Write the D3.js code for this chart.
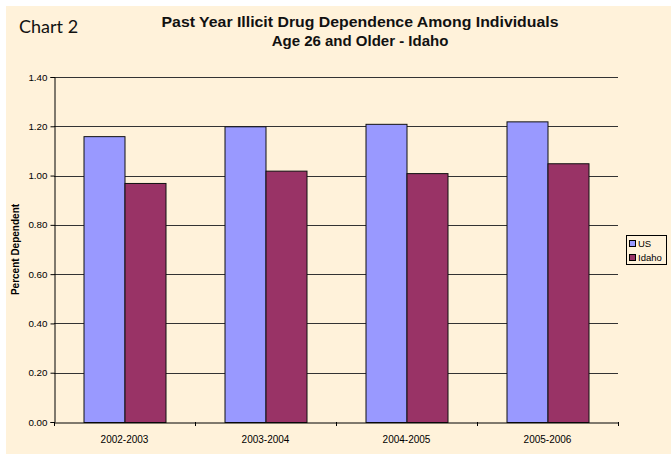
<!DOCTYPE html>
<html><head><meta charset="utf-8">
<script src="https://cdn.jsdelivr.net/npm/d3@7"></script>
<style>body{margin:0;background:#fff;} svg{display:block;}</style>
</head><body>
<svg id="c" width="671" height="455"></svg>
<script>
const categories = ["2002-2003","2003-2004","2004-2005","2005-2006"];
const seriesNames = ["US","Idaho"];
const usValues = [1.16,1.20,1.21,1.22];
const idahoValues = [0.97,1.02,1.01,1.05];
const yTicks = [0,0.2,0.4,0.6,0.8,1.0,1.2,1.4];
const colors = ["#9999FF","#993366"];

const svg = d3.select("#c");
svg.append("rect").attr("x",6).attr("y",6).attr("width",665).attr("height",448).attr("fill","#FFF2DA");

const L=54,R=618,T=77,B=422;
const x = d3.scaleBand().domain(categories).range([L,R]).paddingInner(0).paddingOuter(0);
const x1 = d3.scaleBand().domain(seriesNames).range([0,82]);
const y = d3.scaleLinear().domain([0,1.4]).range([B,T]);

// gridlines
svg.append("g").selectAll("line").data(yTicks.filter(d=>d>0)).join("line")
  .attr("x1",L).attr("x2",R).attr("y1",d=>Math.round(y(d))+0.5).attr("y2",d=>Math.round(y(d))+0.5)
  .attr("stroke","#333").attr("stroke-width",1);

const data = [usValues, idahoValues];
const g = svg.append("g");
categories.forEach((c,i)=>{
  seriesNames.forEach((s,j)=>{
    const bx = x(c) + (x.bandwidth()-82)/2 + x1(s);
    g.append("rect").attr("x",bx+0.5).attr("y",y(data[j][i])+0.5)
      .attr("width",x1.bandwidth()).attr("height",B-y(data[j][i]))
      .attr("fill",colors[j]).attr("stroke","#111").attr("stroke-width",1);
  });
});

// y axis
const ya = svg.append("g").attr("transform",`translate(${L+0.5},0)`)
  .call(d3.axisLeft(y).tickValues(yTicks).tickFormat(d3.format(".2f")).tickSize(4));
ya.select(".domain").attr("stroke","#000");
ya.selectAll(".tick line").attr("stroke","#000");
ya.selectAll("text").attr("font-family","Arial, Liberation Sans, sans-serif").attr("font-size","9.8px").attr("fill","#000").attr("x",-7);

// x axis
const xa = svg.append("g").attr("transform",`translate(0,${B+0.5})`)
  .call(d3.axisBottom(x).tickSize(0).tickSizeOuter(0));
xa.select(".domain").attr("stroke","#000");
xa.selectAll("text").attr("font-family","Arial, Liberation Sans, sans-serif").attr("font-size","10px").attr("fill","#000").attr("dy","1.7em");
// category boundary ticks
const bounds = categories.map(c=>x(c)).concat([R]);
svg.append("g").selectAll("line").data(bounds).join("line")
  .attr("x1",d=>Math.round(d)+0.5).attr("x2",d=>Math.round(d)+0.5)
  .attr("y1",B).attr("y2",B+4).attr("stroke","#000");

// titles
svg.append("text").attr("x",19).attr("y",33).text("Chart 2")
  .attr("font-family","Lato, 'Open Sans', sans-serif").attr("font-size","18px").attr("fill","#111");
const t = svg.append("text").attr("text-anchor","middle")
  .attr("font-family","Arial, Liberation Sans, sans-serif").attr("font-weight","bold").attr("font-size","15px").attr("fill","#111");
t.append("tspan").attr("x",360).attr("y",27).attr("textLength",397).attr("lengthAdjust","spacingAndGlyphs").text("Past Year Illicit Drug Dependence Among Individuals");
t.append("tspan").attr("x",360).attr("y",46).text("Age 26 and Older - Idaho");

svg.append("text").attr("transform",`translate(19,${(T+B)/2}) rotate(-90)`).attr("text-anchor","middle")
  .attr("font-family","Arial, Liberation Sans, sans-serif").attr("font-weight","bold").attr("font-size","10px")
  .text("Percent Dependent");

// legend
const lg = svg.append("g");
lg.append("rect").attr("x",626.5).attr("y",235.5).attr("width",40).attr("height",29).attr("fill","#FFF2DA").attr("stroke","#000");
seriesNames.forEach((s,i)=>{
  lg.append("rect").attr("x",629.5).attr("y",240.5+i*14).attr("width",6).attr("height",6).attr("fill",colors[i]).attr("stroke","#000");
  lg.append("text").attr("x",638).attr("y",247+i*14).text(s)
    .attr("font-family","Arial, Liberation Sans, sans-serif").attr("font-size","9.5px").attr("fill","#000");
});
</script>
</body></html>
